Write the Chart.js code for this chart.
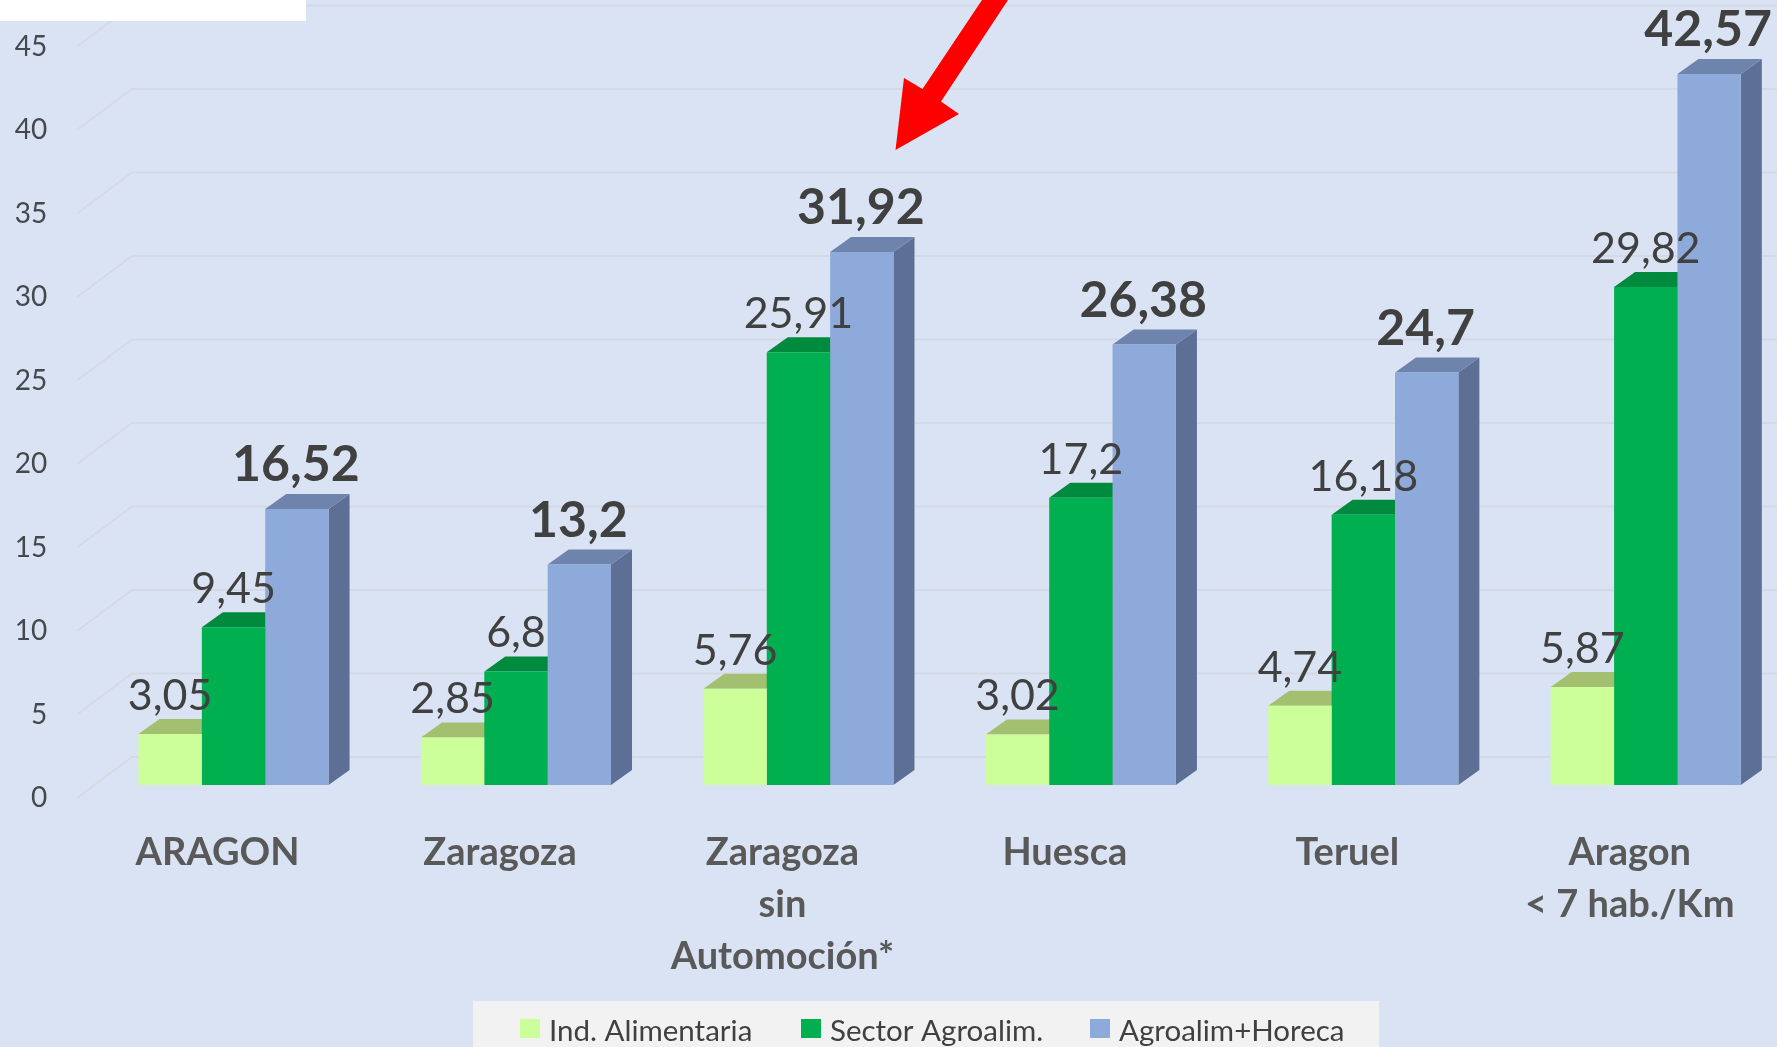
<!DOCTYPE html>
<html lang="es">
<head>
<meta charset="utf-8">
<title>Agroalimentario</title>
<script src="https://cdn.jsdelivr.net/npm/chart.js@4/dist/chart.umd.min.js"></script>
<style>
    html, body { margin: 0; width: 1777px; height: 1047px; overflow: hidden; background: #dae3f3; }
    canvas { display: block; }
</style>
</head>
<body>
<canvas id="chart" width="1787" height="1047"></canvas>
<script>
const categories = ['ARAGON', 'Zaragoza', ['Zaragoza', 'sin', 'Automoción*'], 'Huesca', 'Teruel', ['Aragon', '< 7 hab./Km']]
const indAlimentaria = [3.05, 2.85, 5.76, 3.02, 4.74, 5.87]
const sectorAgroalim = [9.45, 6.8, 25.91, 17.2, 16.18, 29.82]
const agroalimHoreca = [16.52, 13.2, 31.92, 26.38, 24.7, 42.57]
const seriesNames = ['Ind. Alimentaria', 'Sector Agroalim.', 'Agroalim+Horeca']
const seriesColors = ['#ccff99', '#00b050', '#8eaadb']
const topColors = ['#a3bf70', '#008a3e', '#6e84ad']
const sideColors = ['#8fa86a', '#00703a', '#5d6f94']
const tickStep = 5
const tickMax = 45

const DEPTH_X = 21, DEPTH_Y = 15
const WALL_X = 55, WALL_Y = 41

// pared del fondo y caras superior y lateral, antes de las caras frontales
const backdrop = {
    id: 'backdrop',
    beforeDatasetsDraw(chart){
        const {ctx, scales: {yTicks}} = chart
        ctx.save()
        ctx.strokeStyle = '#d5d9e3'
        ctx.lineWidth = 2
        for(let v = 0; v <= tickMax; v += tickStep){
            const y = yTicks.getPixelForValue(v)
            ctx.beginPath()
            ctx.moveTo(77, y)
            ctx.lineTo(77 + WALL_X, y - WALL_Y)
            ctx.lineTo(chart.width, y - WALL_Y)
            ctx.stroke()
        }
        chart.data.datasets.forEach((set, i) => {
            chart.getDatasetMeta(i).data.forEach(bar => {
                const left = bar.x - bar.width / 2, right = bar.x + bar.width / 2
                ctx.fillStyle = sideColors[i]
                ctx.beginPath()
                ctx.moveTo(right, bar.y)
                ctx.lineTo(right + DEPTH_X, bar.y - DEPTH_Y)
                ctx.lineTo(right + DEPTH_X, bar.base - DEPTH_Y)
                ctx.lineTo(right, bar.base)
                ctx.fill()
                ctx.fillStyle = topColors[i]
                ctx.beginPath()
                ctx.moveTo(left, bar.y)
                ctx.lineTo(left + DEPTH_X, bar.y - DEPTH_Y)
                ctx.lineTo(right + DEPTH_X, bar.y - DEPTH_Y)
                ctx.lineTo(right, bar.y)
                ctx.fill()
            })
        })
        ctx.restore()
    }
}

const valueLabels = {
    id: 'valueLabels',
    afterDatasetsDraw(chart){
        const {ctx} = chart
        ctx.save()
        ctx.textAlign = 'center'
        ctx.textBaseline = 'middle'
        ctx.fillStyle = '#404040'
        chart.data.datasets.forEach((set, i) => {
            const bold = i == 2
            ctx.font = (bold ? 'bold 50px' : '43px') + ' Lato'
            chart.getDatasetMeta(i).data.forEach((bar, j) => {
                const text = String(set.data[j]).replace('.', ',')
                ctx.fillText(text, bar.x - (bold ? 1 : 0), bar.y - (bold ? 44 : 38))
            })
        })
        ctx.restore()
    }
}

const extras = {
    id: 'extras',
    afterDraw(chart){
        const {ctx} = chart
        ctx.save()
        // recuadro blanco
        ctx.fillStyle = '#ffffff'
        ctx.fillRect(0, 0, 306, 21)
        // flecha
        ctx.fillStyle = '#ff0000'
        ctx.beginPath()
        ;[[982, 0], [922.5, 89], [904, 78], [895.5, 150], [959, 114], [941, 101.5], [1008, 0]].forEach(p => ctx.lineTo(p[0], p[1]))
        ctx.fill()
        // leyenda
        ctx.fillStyle = '#f2f2f2'
        ctx.fillRect(473, 1001, 906, 46)
        ctx.font = '29.5px Lato'
        ctx.textBaseline = 'middle'
        const boxX = [520, 801, 1090]
        seriesNames.forEach((name, i) => {
            ctx.fillStyle = seriesColors[i]
            ctx.fillRect(boxX[i], 1019, 20, 19)
            ctx.fillStyle = '#404040'
            ctx.fillText(name, boxX[i] + 29, 1031)
        })
        ctx.restore()
    }
}

new Chart(document.querySelector('#chart'), {
    type: 'bar',
    data: {
        labels: categories,
        datasets: [indAlimentaria, sectorAgroalim, agroalimHoreca].map((values, i) => ({
            label: seriesNames[i],
            data: values,
            backgroundColor: seriesColors[i],
            yAxisID: 'y',
            categoryPercentage: 0.673,
            barPercentage: 1
        }))
    },
    options: {
        responsive: false,
        animation: false,
        layout: {padding: {top: 46.5, left: 0, right: 0, bottom: 0}},
        plugins: {legend: {display: false}, tooltip: {enabled: false}},
        scales: {
            x: {
                grid: {display: false},
                border: {display: false},
                ticks: {
                    font: {family: 'Lato', size: 38, weight: 'bold', lineHeight: 1.368},
                    color: '#595959',
                    padding: 21,
                    labelOffset: -16,
                    maxRotation: 0,
                    autoSkip: false
                },
                afterFit(scale){
                    scale.height = 249
                    scale.paddingTop = scale.paddingBottom = scale.paddingLeft = scale.paddingRight = 0
                }
            },
            // plano frontal de las barras: el cero queda por encima de la base del eje
            y: {display: false, min: -0.778, max: 44.222},
            yTicks: {
                position: 'left',
                min: 0,
                max: tickMax,
                grid: {display: false},
                border: {display: false},
                ticks: {
                    stepSize: tickStep,
                    font: {family: 'Lato', size: 28},
                    color: '#44494e',
                    padding: 37
                },
                afterFit(scale){
                    scale.width = 92.3
                    scale.paddingTop = scale.paddingBottom = 0
                }
            }
        }
    },
    plugins: [backdrop, valueLabels, extras]
})
</script>
</body>
</html>
